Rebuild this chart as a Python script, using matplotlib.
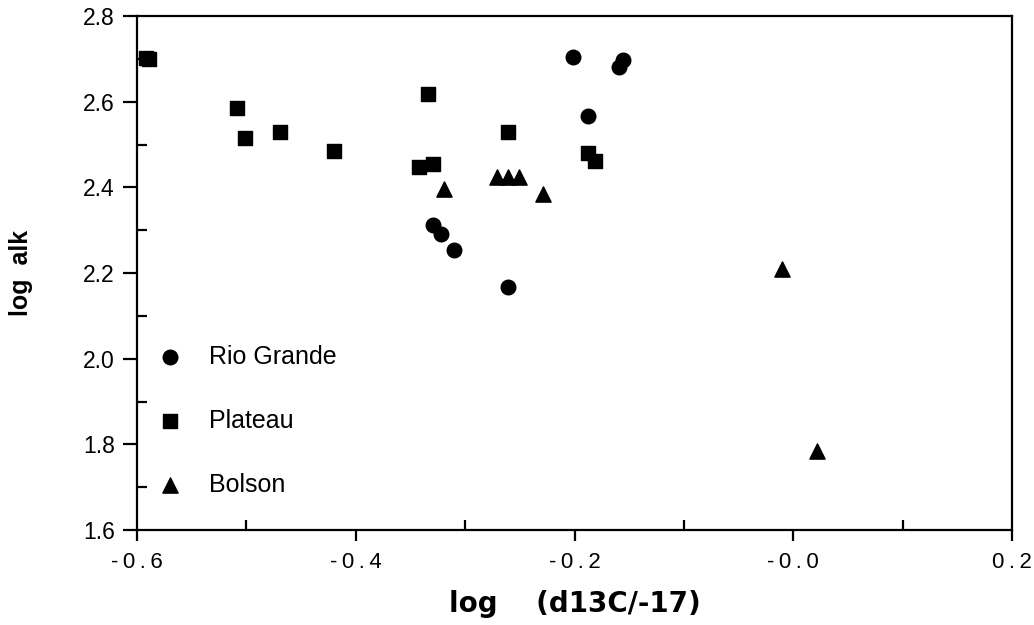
import matplotlib
matplotlib.use("Agg")
import matplotlib.pyplot as plt
from matplotlib.ticker import MultipleLocator, FormatStrFormatter

# Data
rio_x = [-0.201, -0.156, -0.159, -0.188, -0.329, -0.322, -0.310, -0.261]
rio_y = [2.704, 2.698, 2.680, 2.567, 2.311, 2.291, 2.254, 2.167]

plateau_x = [-0.592, -0.589, -0.509, -0.501, -0.469, -0.420, -0.334, -0.342, -0.329, -0.261, -0.188, -0.181]
plateau_y = [2.703, 2.699, 2.586, 2.516, 2.530, 2.484, 2.617, 2.448, 2.454, 2.530, 2.479, 2.461]

bolson_x = [-0.319, -0.271, -0.261, -0.251, -0.229, -0.010, 0.022]
bolson_y = [2.397, 2.423, 2.423, 2.423, 2.385, 2.209, 1.784]

series_labels = ["Rio Grande", "Plateau", "Bolson"]
x_ticks = [-0.6, -0.4, -0.2, 0.0, 0.2]
x_tick_labels = ["-0.6", "-0.4", "-0.2", "-0.0", "0.2"]
y_ticks = [1.6, 1.8, 2.0, 2.2, 2.4, 2.6, 2.8]

plt.rcParams['font.family'] = ['Liberation Sans', 'DejaVu Sans']

W, H = 1034, 625
L, R, T, B = 137, 1012, 16, 530
fig = plt.figure(figsize=(W / 100, H / 100), dpi=100)
ax = fig.add_axes([L / W, 1 - B / H, (R - L) / W, (B - T) / H])

ax.scatter(rio_x, rio_y, marker='o', s=110, color='black', label=series_labels[0], zorder=3)
ax.scatter(plateau_x, plateau_y, marker='s', s=105, color='black', label=series_labels[1], zorder=3)
ax.scatter(bolson_x, bolson_y, marker='^', s=120, color='black', label=series_labels[2], zorder=3)

ax.set_xlim(-0.6, 0.2)
ax.set_ylim(1.6, 2.8)
ax.set_xticks(x_ticks)
# letter-spaced tick labels, as in the reference
ax.set_xticklabels(["\u2009".join(t) for t in x_tick_labels])
ax.set_yticks(y_ticks)
ax.yaxis.set_major_formatter(FormatStrFormatter('%.1f'))
ax.xaxis.set_minor_locator(MultipleLocator(0.1))
ax.yaxis.set_minor_locator(MultipleLocator(0.1))

for sp in ax.spines.values():
    sp.set_linewidth(1.6)

ax.tick_params(axis='both', which='minor', direction='in', length=7, width=1.6)
ax.tick_params(axis='y', which='major', direction='out', length=10, width=1.6,
               labelsize=16.5, pad=6)
ax.tick_params(axis='x', which='major', direction='out', length=8, width=1.6,
               labelsize=16, pad=8)
ax.tick_params(top=False, right=False, which='both')

ax.set_xlabel("log    (d13C/-17)", fontsize=20, fontweight='bold',
              family=['DejaVu Sans'])
ax.xaxis.set_label_coords(0.5, (B - 590) / (B - T))
ax.set_ylabel("log  alk", fontsize=18, fontweight='bold')
ax.yaxis.set_label_coords((33 - L) / (R - L), 0.5)

leg = ax.legend(loc='center left', bbox_to_anchor=(-0.002, (B - 421) / (B - T)),
                frameon=False, fontsize=18, labelspacing=1.6, handletextpad=0.55,
                handlelength=2.0, borderaxespad=0.0, scatterpoints=1)

fig.savefig("out.png", dpi=100, facecolor='white')
